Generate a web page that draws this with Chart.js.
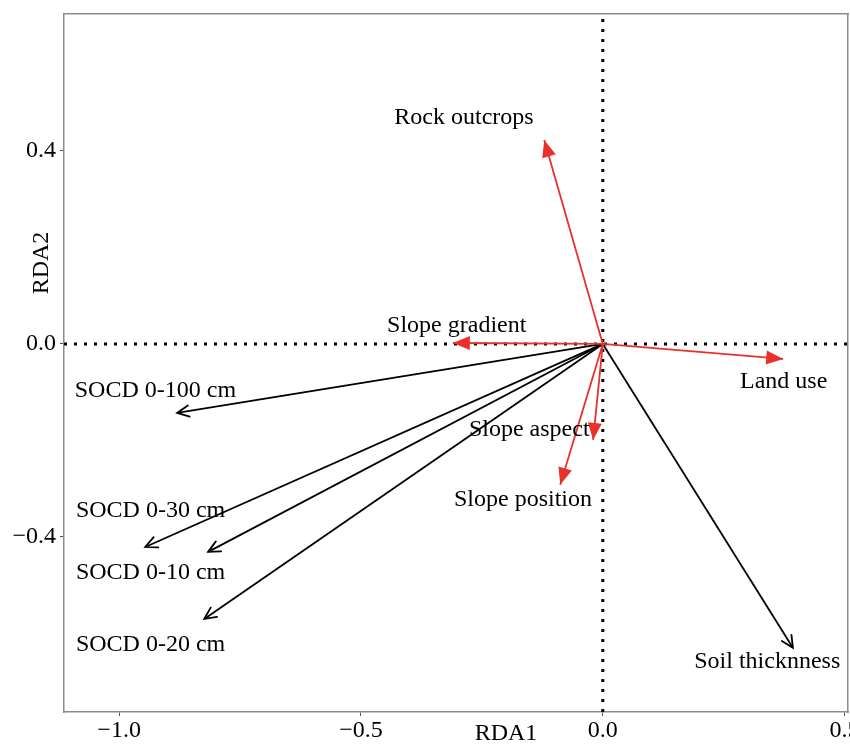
<!DOCTYPE html>
<html>
<head>
<meta charset="utf-8">
<script src="https://cdn.jsdelivr.net/npm/chart.js@4/dist/chart.umd.min.js"></script>
<style>
html,body{margin:0;padding:0;background:#fff;}
#wrap{width:850px;height:744px;}
</style>
</head>
<body>
<div id="wrap"><canvas id="c" width="850" height="744"></canvas></div>
<script>
// Environmental variables (red arrows)
const envNames = ["Rock outcrops","Slope gradient","Land use","Slope aspect","Slope position"];
const envRDA1 = [-0.121,-0.310,0.373,-0.020,-0.088];
const envRDA2 = [0.423,0.002,-0.031,-0.199,-0.292];
// Response variables (black arrows)
const respNames = ["Soil thicknness","SOCD 0-100 cm","SOCD 0-30 cm","SOCD 0-10 cm","SOCD 0-20 cm"];
const respRDA1 = [0.393,-0.880,-0.946,-0.816,-0.824];
const respRDA2 = [-0.630,-0.143,-0.421,-0.431,-0.570];
// label anchor positions (data units)
const envLabelX = [-0.287,-0.302,0.374,-0.152,-0.165];
const envLabelY = [0.468,0.037,-0.079,-0.178,-0.323];
const respLabelX = [0.340,-0.925,-0.935,-0.935,-0.935];
const respLabelY = [-0.659,-0.097,-0.346,-0.475,-0.624];
// axes
const xTicks = [-1.0,-0.5,0.0,0.5];
const yTicks = [-0.4,0.0,0.4];
const xMin = -1.114, xMax = 0.507;
const yMin = -0.763, yMax = 0.684;

const RED = '#e8312b';
const FONT = '"Liberation Serif","Times New Roman",serif';

const datasets = [];
datasets.push({data:[{x:xMin,y:0},{x:xMax,y:0}],showLine:true,borderColor:'#000',borderWidth:3,borderDash:[3,7],pointRadius:0,order:10,kind:'guide'});
datasets.push({data:[{x:0,y:yMin},{x:0,y:yMax}],showLine:true,borderColor:'#000',borderWidth:3,borderDash:[3,7],pointRadius:0,order:10,kind:'guide'});
respNames.forEach((n,i)=>{
  datasets.push({label:n,data:[{x:0,y:0},{x:respRDA1[i],y:respRDA2[i]}],showLine:true,borderColor:'#000',borderWidth:1.8,pointRadius:0,order:5,kind:'resp',lx:respLabelX[i],ly:respLabelY[i]});
});
envNames.forEach((n,i)=>{
  datasets.push({label:n,data:[{x:0,y:0},{x:envRDA1[i],y:envRDA2[i]}],showLine:true,borderColor:RED,borderWidth:1.8,pointRadius:0,order:1,kind:'env',lx:envLabelX[i],ly:envLabelY[i]});
});

const fmt = v => { const s = (Math.abs(v)<1e-9?0:v).toFixed(1); return s.replace('-','\u2212'); };

const arrowPlugin = {
  id:'arrows',
  afterDatasetsDraw(chart){
    const ctx = chart.ctx, xs = chart.scales.x, ys = chart.scales.y;
    const x0 = xs.getPixelForValue(0), y0 = ys.getPixelForValue(0);
    chart.data.datasets.forEach(ds=>{
      if(ds.kind!=='env' && ds.kind!=='resp') return;
      const p = ds.data[1];
      const tx = xs.getPixelForValue(p.x), ty = ys.getPixelForValue(p.y);
      const ang = Math.atan2(ty-y0, tx-x0);
      ctx.save();
      if(ds.kind==='env'){
        const L=17, W=7;
        const bx = tx - L*Math.cos(ang), by = ty - L*Math.sin(ang);
        ctx.fillStyle = RED;
        ctx.beginPath();
        ctx.moveTo(tx,ty);
        ctx.lineTo(bx + W*Math.sin(ang), by - W*Math.cos(ang));
        ctx.lineTo(bx - W*Math.sin(ang), by + W*Math.cos(ang));
        ctx.closePath(); ctx.fill();
      } else {
        const L=13, a=0.45;
        ctx.strokeStyle='#000'; ctx.lineWidth=1.8; ctx.lineCap='round'; ctx.lineJoin='miter';
        ctx.beginPath();
        ctx.moveTo(tx - L*Math.cos(ang-a), ty - L*Math.sin(ang-a));
        ctx.lineTo(tx,ty);
        ctx.lineTo(tx - L*Math.cos(ang+a), ty - L*Math.sin(ang+a));
        ctx.stroke();
      }
      ctx.restore();
    });
    // labels
    ctx.save();
    ctx.fillStyle='#000';
    ctx.font = '24px '+FONT;
    ctx.textAlign='center'; ctx.textBaseline='middle';
    chart.data.datasets.forEach(ds=>{
      if(ds.kind!=='env' && ds.kind!=='resp') return;
      ctx.fillText(ds.label, xs.getPixelForValue(ds.lx), ys.getPixelForValue(ds.ly));
    });
    // axis titles
    ctx.fillText('RDA1', 506, 734);
    ctx.translate(41.5, 263);
    ctx.rotate(-Math.PI/2);
    ctx.fillText('RDA2', 0, 0);
    ctx.restore();
  }
};

new Chart(document.getElementById('c'),{
  type:'scatter',
  data:{datasets},
  options:{
    responsive:false,
    animation:false,
    devicePixelRatio:1,
    layout:{padding:{top:14,right:2,left:0,bottom:0}},
    plugins:{legend:{display:false},tooltip:{enabled:false}},
    scales:{
      x:{
        type:'linear', min:xMin, max:xMax,
        afterBuildTicks:s=>{s.ticks = xTicks.map(v=>({value:v}));},
        afterFit:s=>{s.height=32; s.paddingLeft=0; s.paddingRight=0;},
        ticks:{callback:v=>fmt(v),color:'#000',font:{family:FONT,size:24},padding:0,maxRotation:0,autoSkip:false},
        grid:{drawOnChartArea:false,drawTicks:true,tickLength:4,color:'#555',lineWidth:1},
        border:{display:true,color:'#8c8c8c',width:1.5}
      },
      y:{
        type:'linear', min:yMin, max:yMax,
        afterBuildTicks:s=>{s.ticks = yTicks.map(v=>({value:v}));},
        afterFit:s=>{s.width=64; s.paddingTop=0; s.paddingBottom=0;},
        ticks:{callback:v=>fmt(v),color:'#000',font:{family:FONT,size:24},padding:4,autoSkip:false},
        grid:{drawOnChartArea:false,drawTicks:true,tickLength:4,color:'#555',lineWidth:1},
        border:{display:true,color:'#8c8c8c',width:1.5}
      },
      x2:{type:'linear',position:'top',min:xMin,max:xMax,display:true,ticks:{display:false},grid:{drawOnChartArea:false,drawTicks:false},border:{display:true,color:'#8c8c8c',width:1.5},afterFit:s=>{s.height=0;s.paddingLeft=0;s.paddingRight=0;}},
      y2:{type:'linear',position:'right',min:yMin,max:yMax,display:true,ticks:{display:false},grid:{drawOnChartArea:false,drawTicks:false},border:{display:true,color:'#8c8c8c',width:1.5},afterFit:s=>{s.width=0;s.paddingTop=0;s.paddingBottom=0;}}
    }
  },
  plugins:[arrowPlugin]
});
</script>
</body>
</html>
